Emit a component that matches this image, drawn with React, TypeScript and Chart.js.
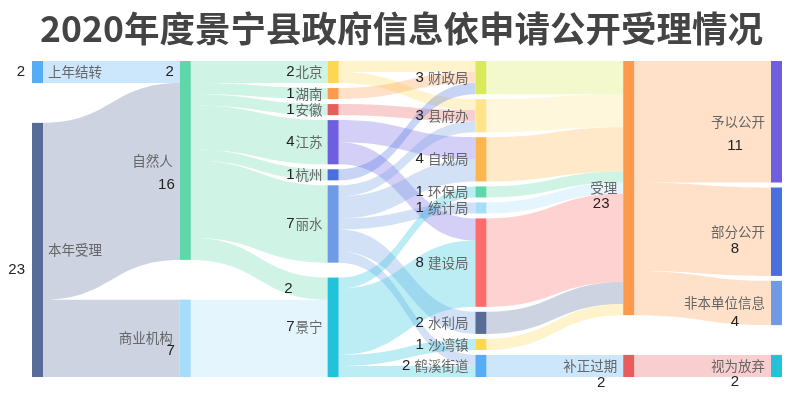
import React, { useEffect, useRef } from 'react';
import { Chart, registerables } from 'chart.js';

Chart.register(...registerables);

const TITLE = '2020年度景宁县政府信息依申请公开受理情况';

const nodeNames = [
  '上年结转', '本年受理',
  '自然人', '商业机构',
  '北京', '湖南', '安徽', '江苏', '杭州', '丽水', '景宁',
  '财政局', '县府办', '自规局', '环保局', '统计局', '建设局', '水利局', '沙湾镇', '鹤溪街道',
  '受理', '补正过期',
  '予以公开', '部分公开', '非本单位信息', '视为放弃',
];

const nodeValueLabels = [
  '2', '23',
  '16', '7',
  '2', '1', '1', '4', '1', '7', '7',
  '3', '3', '4', '1', '1', '8', '2', '1', '2',
  '23', '2',
  '11', '8', '4', '2',
];

const nodeColors = [
  '#57adf5', '#596c97',
  '#5fd8a9', '#a6ddf9',
  '#fdd74f', '#ff9a4d', '#e95c5c', '#6d5fe0', '#4a6fe0', '#6e9ae6', '#22c3da',
  '#d8ea5a', '#ffe48b', '#ffb54d', '#5fd8a9', '#a6ddf9', '#ff6b6b', '#596c97', '#fdd74f', '#57adf5',
  '#ff9a4d', '#e95c5c',
  '#6d5fe0', '#4a6fe0', '#6e9ae6', '#22c3da',
];

const linkSources = [
  '上年结转', '本年受理', '本年受理',
  '自然人', '自然人', '自然人', '自然人', '自然人', '自然人', '自然人', '商业机构',
  '北京', '北京', '湖南', '安徽', '江苏', '江苏', '杭州',
  '丽水', '丽水', '丽水', '丽水', '丽水',
  '景宁', '景宁', '景宁', '景宁',
  '财政局', '县府办', '自规局', '环保局', '统计局', '建设局', '水利局', '沙湾镇', '鹤溪街道',
  '受理', '受理', '受理', '补正过期',
];
const linkTargets = [
  '自然人', '自然人', '商业机构',
  '北京', '湖南', '安徽', '江苏', '杭州', '丽水', '景宁', '景宁',
  '财政局', '县府办', '财政局', '县府办', '自规局', '建设局', '财政局',
  '县府办', '自规局', '统计局', '水利局', '鹤溪街道',
  '环保局', '建设局', '沙湾镇', '鹤溪街道',
  '受理', '受理', '受理', '受理', '受理', '受理', '受理', '受理', '补正过期',
  '予以公开', '部分公开', '非本单位信息', '视为放弃',
];
const linkValues = [
  2, 16, 7,
  2, 1, 1, 4, 1, 7, 2, 7,
  1, 1, 1, 1, 2, 2, 1,
  1, 2, 1, 2, 1,
  1, 6, 1, 1,
  3, 3, 4, 1, 1, 8, 2, 1, 2,
  11, 8, 4, 2,
];

// extra value labels shown on some links (link index -> text)
const linkLabelIndex = [0, 9];
const linkLabelText = ['2', '2'];

// ---- styling (not data) ----
const NODE_GAP = 0.45; // in value units
const NODE_W = 11;
const LINK_ALPHA = 0.3;
const NAME_FONT = "13.5px 'Noto Sans CJK SC', sans-serif";
const VALUE_FONT = "15px 'Liberation Sans', Arial, sans-serif";
const NAME_COLOR = '#666';
const VALUE_COLOR = '#222';
const valueDy: Record<string, number> = {
  '本年受理': 20, '自然人': 24, '商业机构': 13,
  '受理': 16, '补正过期': 17,
  '予以公开': 24, '部分公开': 17, '非本单位信息': 19, '视为放弃': 16,
};
const linkLabelDx = [6, 35];

function hexToRgba(hex: string, a: number) {
  const v = parseInt(hex.slice(1), 16);
  return `rgba(${(v >> 16) & 255},${(v >> 8) & 255},${v & 255},${a})`;
}

function layoutSankey(gap: number, iterations: number) {
  const nodes: any[] = nodeNames.map((name, index) => ({
    name, index, color: nodeColors[index], label: nodeValueLabels[index],
    sourceLinks: [], targetLinks: [], value: 0, depth: 0, layer: 0, y0: 0, y1: 0,
  }));
  const find = (name: string) => nodes[nodeNames.indexOf(name)];
  const links: any[] = linkValues.map((value, index) => ({
    index, value, source: find(linkSources[index]), target: find(linkTargets[index]),
    width: 0, sy: 0, ty: 0,
  }));
  for (const l of links) { l.source.sourceLinks.push(l); l.target.targetLinks.push(l); }
  const sumV = (arr: any[]) => arr.reduce((s, l) => s + l.value, 0);
  for (const n of nodes) n.value = Math.max(sumV(n.sourceLinks), sumV(n.targetLinks));

  let current = new Set<any>(nodes);
  let x = 0;
  while (current.size && x <= nodes.length) {
    const next = new Set<any>();
    for (const n of current) { n.depth = x; for (const l of n.sourceLinks) next.add(l.target); }
    x++;
    current = next;
  }
  const nCols = Math.max(...nodes.map((n) => n.depth)) + 1;
  const columns: any[][] = Array.from({ length: nCols }, () => []);
  for (const n of nodes) {
    n.layer = n.sourceLinks.length ? n.depth : nCols - 1;
    columns[n.layer].push(n);
  }
  const colSum = (c: any[]) => c.reduce((s, n) => s + n.value, 0);
  const Y0 = 0;
  const Y1 = Math.max(...columns.map((c) => colSum(c) + (c.length - 1) * gap));
  const maxLen = Math.max(...columns.map((c) => c.length));
  const py = Math.min(gap, (Y1 - Y0) / (maxLen - 1));

  const byBreadth = (a: any, b: any) => a.y0 - b.y0;
  const bySource = (a: any, b: any) => byBreadth(a.source, b.source) || a.index - b.index;
  const byTarget = (a: any, b: any) => byBreadth(a.target, b.target) || a.index - b.index;
  const reorderLinks = (col: any[]) => {
    for (const n of col) { n.sourceLinks.sort(byTarget); n.targetLinks.sort(bySource); }
  };
  const reorderNodeLinks = (n: any) => {
    for (const l of n.targetLinks) l.source.sourceLinks.sort(byTarget);
    for (const l of n.sourceLinks) l.target.targetLinks.sort(bySource);
  };

  const ky = Math.min(...columns.map((c) => (Y1 - Y0 - (c.length - 1) * py) / colSum(c)));
  for (const col of columns) {
    let y = Y0;
    for (const n of col) {
      n.y0 = y; n.y1 = y + n.value * ky; y = n.y1 + py;
      for (const l of n.sourceLinks) l.width = l.value * ky;
    }
    const extra = (Y1 - y + py) / (col.length + 1);
    col.forEach((n, i) => { n.y0 += extra * (i + 1); n.y1 += extra * (i + 1); });
    reorderLinks(col);
  }

  const targetTop = (source: any, target: any) => {
    let y = source.y0 - (source.sourceLinks.length - 1) * py / 2;
    for (const l of source.sourceLinks) { if (l.target === target) break; y += l.width + py; }
    for (const l of target.targetLinks) { if (l.source === source) break; y -= l.width; }
    return y;
  };
  const sourceTop = (source: any, target: any) => {
    let y = target.y0 - (target.targetLinks.length - 1) * py / 2;
    for (const l of target.targetLinks) { if (l.source === source) break; y += l.width + py; }
    for (const l of source.sourceLinks) { if (l.target === target) break; y -= l.width; }
    return y;
  };
  const resolveTB = (col: any[], y: number, i: number, alpha: number) => {
    for (; i < col.length; ++i) {
      const n = col[i]; const d = (y - n.y0) * alpha;
      if (d > 1e-6) { n.y0 += d; n.y1 += d; }
      y = n.y1 + py;
    }
  };
  const resolveBT = (col: any[], y: number, i: number, alpha: number) => {
    for (; i >= 0; --i) {
      const n = col[i]; const d = (n.y1 - y) * alpha;
      if (d > 1e-6) { n.y0 -= d; n.y1 -= d; }
      y = n.y0 - py;
    }
  };
  const resolve = (col: any[], alpha: number) => {
    const i = col.length >> 1; const s = col[i];
    resolveBT(col, s.y0 - py, i - 1, alpha);
    resolveTB(col, s.y1 + py, i + 1, alpha);
    resolveBT(col, Y1, col.length - 1, alpha);
    resolveTB(col, Y0, 0, alpha);
  };
  // node order inside a column is kept as given (no re-sorting)
  const relaxLR = (alpha: number, beta: number) => {
    for (let i = 1; i < columns.length; ++i) {
      const col = columns[i];
      for (const t of col) {
        let y = 0, w = 0;
        for (const l of t.targetLinks) {
          const v = l.value * (t.layer - l.source.layer);
          y += targetTop(l.source, t) * v; w += v;
        }
        if (!(w > 0)) continue;
        const d = (y / w - t.y0) * alpha;
        t.y0 += d; t.y1 += d;
        reorderNodeLinks(t);
      }
      resolve(col, beta);
    }
  };
  const relaxRL = (alpha: number, beta: number) => {
    for (let i = columns.length - 2; i >= 0; --i) {
      const col = columns[i];
      for (const s of col) {
        let y = 0, w = 0;
        for (const l of s.sourceLinks) {
          const v = l.value * (l.target.layer - s.layer);
          y += sourceTop(s, l.target) * v; w += v;
        }
        if (!(w > 0)) continue;
        const d = (y / w - s.y0) * alpha;
        s.y0 += d; s.y1 += d;
        reorderNodeLinks(s);
      }
      resolve(col, beta);
    }
  };
  for (let i = 0; i < iterations; ++i) {
    const alpha = Math.pow(0.99, i);
    const beta = Math.max(1 - alpha, (i + 1) / iterations);
    relaxRL(alpha, beta);
    relaxLR(alpha, beta);
  }
  // justify groups: split each column at its widest inner gap (later one on ties),
  // pack the upper group to the top edge and the lower group to the bottom edge
  for (const col of columns) {
    if (col.length < 2) continue;
    let split = 1, best = -Infinity;
    for (let i = 1; i < col.length; i++) {
      const g = col[i].y0 - col[i - 1].y1;
      if (g >= best - 1e-6) { best = g; split = i; }
    }
    let y = Y0;
    for (let i = 0; i < split; i++) { const h = col[i].y1 - col[i].y0; col[i].y0 = y; col[i].y1 = y + h; y += h + py; }
    y = Y1;
    for (let i = col.length - 1; i >= split; i--) { const h = col[i].y1 - col[i].y0; col[i].y1 = y; col[i].y0 = y - h; y -= h + py; }
  }
  for (const n of nodes) {
    n.sourceLinks.sort(byTarget);
    n.targetLinks.sort(bySource);
  }
  for (const n of nodes) {
    let a = n.y0, b = n.y0;
    for (const l of n.sourceLinks) { l.sy = a; a += l.width; }
    for (const l of n.targetLinks) { l.ty = b; b += l.width; }
  }
  return { nodes, links, nCols, extent: Y1 };
}

const graph = layoutSankey(NODE_GAP, 32);

const sankeyPlugin = {
  id: 'sankeyDraw',
  afterDraw(chart: any) {
    const { ctx } = chart;
    const xs = chart.scales.x;
    const ys = chart.scales.y;
    const nx = (n: any) => xs.getPixelForValue(n.layer);
    const py = (v: number) => ys.getPixelForValue(v);
    ctx.save();
    for (const l of graph.links) {
      const sx = nx(l.source) + NODE_W;
      const tx = nx(l.target);
      const mx = (sx + tx) / 2;
      const s0 = py(l.sy), s1 = py(l.sy + l.width);
      const t0 = py(l.ty), t1 = py(l.ty + l.width);
      ctx.beginPath();
      ctx.moveTo(sx, s0);
      ctx.bezierCurveTo(mx, s0, mx, t0, tx, t0);
      ctx.lineTo(tx, t1);
      ctx.bezierCurveTo(mx, t1, mx, s1, sx, s1);
      ctx.closePath();
      ctx.fillStyle = hexToRgba(l.source.color, LINK_ALPHA);
      ctx.fill();
    }
    for (const n of graph.nodes) {
      const x0 = nx(n);
      const y0 = py(n.y0), y1 = py(n.y1);
      ctx.fillStyle = n.color;
      ctx.fillRect(x0, y0, NODE_W, y1 - y0);
    }
    ctx.textBaseline = 'middle';
    const text = (s: string, x: number, y: number, align: string, font: string, color: string) => {
      ctx.font = font; ctx.fillStyle = color; ctx.textAlign = align; ctx.fillText(s, x, y);
    };
    for (const n of graph.nodes) {
      const x0 = nx(n);
      const cy = (py(n.y0) + py(n.y1)) / 2;
      const dy = valueDy[n.name] || 0;
      if (n.layer === 0) {
        text(n.name, x0 + NODE_W + 5, cy, 'left', NAME_FONT, NAME_COLOR);
        text(n.label, x0 - 7, cy + dy, 'right', VALUE_FONT, VALUE_COLOR);
      } else if (n.layer === 1) {
        text(n.name, x0 - 7, cy, 'right', NAME_FONT, NAME_COLOR);
        text(n.label, x0 - 5, cy + dy, 'right', VALUE_FONT, VALUE_COLOR);
      } else if (n.layer === 2 || n.layer === 3) {
        const xr = x0 - (n.layer === 2 ? 5 : 7);
        ctx.font = NAME_FONT;
        const w = ctx.measureText(n.name).width;
        text(n.name, xr, cy, 'right', NAME_FONT, NAME_COLOR);
        text(n.label, xr - w - (n.layer === 2 ? 1 : 4), cy, 'right', VALUE_FONT, VALUE_COLOR);
      } else {
        text(n.name, x0 - 6, cy, 'right', NAME_FONT, NAME_COLOR);
        text(n.label, x0 - (n.layer === 4 ? 22 : 36), cy + dy, 'center', VALUE_FONT, VALUE_COLOR);
      }
    }
    linkLabelIndex.forEach((li, k) => {
      const l = graph.links[li];
      const cy = (py(l.ty) + py(l.ty + l.width)) / 2;
      text(linkLabelText[k], nx(l.target) - linkLabelDx[k], cy, 'right', VALUE_FONT, VALUE_COLOR);
    });
    ctx.restore();
  },
};

export default function App() {
  const ref = useRef<HTMLCanvasElement>(null);
  useEffect(() => {
    if (!ref.current) return;
    const chart = new Chart(ref.current, {
      type: 'scatter',
      data: { datasets: [{ data: [] }] },
      options: {
        responsive: false,
        animation: false,
        layout: { padding: { left: 32, right: 29, top: 0, bottom: 23 } },
        plugins: {
          legend: { display: false },
          tooltip: { enabled: false },
          title: {
            display: true,
            text: TITLE,
            color: '#444',
            font: { family: "'Noto Sans CJK SC', sans-serif", size: 35.5, weight: 'bold', lineHeight: 1.2 },
            padding: { top: 7, bottom: 11.4 },
          },
        },
        scales: {
          x: { type: 'linear', min: 0, max: graph.nCols - 1, display: false },
          y: { type: 'linear', min: 0, max: graph.extent, reverse: true, display: false },
        },
      } as any,
      plugins: [sankeyPlugin],
    });
    return () => chart.destroy();
  }, []);
  return (
    <div style={{ position: 'fixed', left: 0, top: 0, width: 800, height: 400, background: '#fff' }}>
      <canvas ref={ref} width={800} height={400} style={{ display: 'block' }} />
    </div>
  );
}
